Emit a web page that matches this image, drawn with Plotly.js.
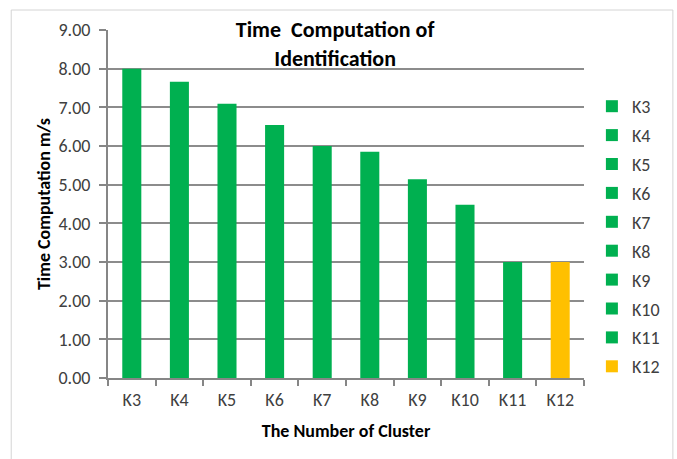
<!DOCTYPE html>
<html>
<head>
<meta charset="utf-8">
<script src="https://cdn.plot.ly/plotly-3.0.1.min.js"></script>
<style>html,body{margin:0;padding:0;background:#fff;}#chart{width:677px;height:459px;}</style>
</head>
<body>
<div id="chart"></div>
<script>
var categories = ["K3","K4","K5","K6","K7","K8","K9","K10","K11","K12"];
var values = [8.00, 7.66, 7.09, 6.54, 6.00, 5.85, 5.14, 4.48, 3.00, 3.00];
var colors = ["#00B050","#00B050","#00B050","#00B050","#00B050","#00B050","#00B050","#00B050","#00B050","#FFC000"];
var yTicks = [0,1,2,3,4,5,6,7,8,9];

var FONT = "Carlito, Lato, 'Open Sans', sans-serif";

var traces = categories.map(function(c, i){
  return {
    type: 'bar',
    name: c,
    x: [c],
    y: [values[i]],
    legendgroup: c,
    marker: {color: colors[i]},
    hoverinfo: 'x+y'
  };
});

var PL = 108, PR = 590, PT = 30, PB = 378;
var PW = PR - PL, PH = PB - PT;

var layout = {
  width: 677, height: 459,
  margin: {l: PL, r: 677 - PR, t: PT, b: 459 - PB},
  paper_bgcolor: '#ffffff',
  plot_bgcolor: '#ffffff',
  font: {family: FONT, color: '#404040', size: 18},
  barmode: 'overlay',
  bargap: 0.6,
  title: {
    text: "<b>Time  Computation of<br>Identification</b>",
    font: {family: FONT, size: 22, color: '#000000'},
    x: 0.495, xanchor: 'center',
    yref: 'container', y: 1 - 37/459, yanchor: 'top'
  },
  xaxis: {
    type: 'category',
    categoryorder: 'array', categoryarray: categories,
    showline: true, linecolor: '#868686', linewidth: 2,
    ticks: 'outside', tickson: 'boundaries', ticklen: 6, tickcolor: '#868686', tickwidth: 2,
    ticklabelstandoff: 4,
    tickfont: {family: FONT, size: 18, color: '#404040'},
    showgrid: false,
    title: {text: "<b>The Number of Cluster</b>", font: {family: FONT, size: 18, color: '#000000'}, standoff: 15}
  },
  yaxis: {
    range: [0, 9],
    tickvals: yTicks,
    tickformat: '.2f',
    showline: true, linecolor: '#868686', linewidth: 2,
    ticks: 'outside', ticklen: 7, tickcolor: '#868686', tickwidth: 2,
    ticklabelstandoff: 5,
    tickfont: {family: FONT, size: 18, color: '#404040'},
    showgrid: true, gridcolor: '#8c8c8c', gridwidth: 2,
    zeroline: false,
    title: {text: "<b>Time Computation m/s</b>", font: {family: FONT, size: 18, color: '#000000'}, standoff: 3}
  },
  showlegend: true,
  legend: {
    x: 1 + 8/PW, xanchor: 'left',
    y: (PB - 88)/PH, yanchor: 'top',
    traceorder: 'grouped',
    tracegroupgap: 2.5,
    font: {family: FONT, size: 18, color: '#404040'},
    bgcolor: 'rgba(0,0,0,0)'
  },
  shapes: [{
    type: 'rect', xref: 'paper', yref: 'paper',
    x0: (10-PL)/PW, x1: (680-PL)/PW,
    y0: (PB-465)/PH, y1: (PB-10)/PH,
    line: {color: '#d4d4d4', width: 1},
    fillcolor: 'rgba(0,0,0,0)',
    layer: 'below'
  }]
};

Plotly.newPlot('chart', traces, layout, {displayModeBar: false, staticPlot: true});
</script>
</body>
</html>
